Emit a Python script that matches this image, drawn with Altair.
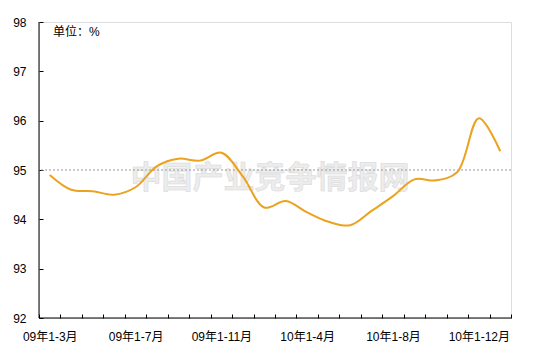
import json
import altair as alt
import pandas as pd

cats = ["09年1-3月", "09年1-4月", "09年1-5月", "09年1-6月", "09年1-7月", "09年1-8月",
        "09年1-9月", "09年1-10月", "09年1-11月", "09年1-12月", "10年1-2月", "10年1-3月",
        "10年1-4月", "10年1-5月", "10年1-6月", "10年1-7月", "10年1-8月", "10年1-9月",
        "10年1-10月", "10年1-11月", "10年1-12月", "11年1-2月"]
vals = [94.9, 94.6, 94.57, 94.5, 94.65, 95.08, 95.23, 95.19, 95.35, 94.87, 94.24,
        94.37, 94.14, 93.95, 93.88, 94.17, 94.47, 94.81, 94.79, 94.96, 96.05, 95.38]
y_ticks = [92, 93, 94, 95, 96, 97, 98]
ref_line = [95]
shown_labels = cats[0::4]
unit_text = "单位：%"
watermark = "中国产业竞争情报网"

FONT = "Arial, Liberation Sans, Noto Sans CJK SC"
W, H = 472, 296

df = pd.DataFrame({"cat": cats, "val": vals})

label_expr = "indexof(" + json.dumps(shown_labels, ensure_ascii=False) + ", datum.value) >= 0 ? datum.value : ''"

xenc = alt.X(
    "cat:N", sort=cats,
    scale=alt.Scale(type="band", paddingInner=0, paddingOuter=0),
    axis=alt.Axis(title=None, labelAngle=0, tickBand="extent", offset=-4, tickSize=4,
                  domain=False, labelPadding=13, labelExpr=label_expr, labelOverlap=False,
                  labelFont=FONT, labelFontSize=12, labelColor="black",
                  tickColor="black", tickWidth=1, grid=False),
)
yenc = alt.Y(
    "val:Q",
    scale=alt.Scale(domain=[92, 98], nice=False, zero=False),
    axis=alt.Axis(title=None, values=y_ticks, offset=-4, tickSize=4, domain=False,
                  grid=False, labelPadding=13, labelFont=FONT, labelFontSize=12,
                  labelColor="black", tickColor="black", tickWidth=1),
)

wm = alt.Chart(pd.DataFrame({"t": [watermark]})).mark_text(
    fontSize=31, font="Noto Sans CJK SC", fontWeight="bold", color="#ececec",
    stroke="#d6d6d6", strokeWidth=0.5, align="center", baseline="middle"
).encode(text="t:N", x=alt.value(231), y=alt.value(157))

ref = alt.Chart(pd.DataFrame({"v": ref_line})).mark_rule(
    color="#9a9a9a", strokeDash=[2, 2], strokeWidth=1.2
).encode(y=alt.Y("v:Q"))

line = alt.Chart(df).mark_line(
    color="#EBA21E", strokeWidth=2, interpolate="catmull-rom"
).encode(x=xenc, y=yenc)

xdomain = alt.Chart(pd.DataFrame({"v": [92]})).mark_rule(color="black", strokeWidth=1).encode(
    y=alt.Y("v:Q"))
ydomain = alt.Chart(pd.DataFrame({"v": [0]})).mark_rule(color="black", strokeWidth=1).encode(
    x=alt.value(0))

unit = alt.Chart(pd.DataFrame({"t": [unit_text]})).mark_text(
    fontSize=12, font=FONT, color="black", align="left", baseline="middle"
).encode(text="t:N", x=alt.value(14), y=alt.value(10))

chart = alt.layer(wm, ref, line, xdomain, ydomain, unit).properties(
    width=W, height=H,
    autosize=alt.AutoSizeParams(type="none"),
    padding={"left": 31, "top": 14, "right": 20, "bottom": 30},
).configure_view(stroke=None).configure(background="white")

chart.save("out.html", embed_options={"renderer": "svg", "actions": False})
